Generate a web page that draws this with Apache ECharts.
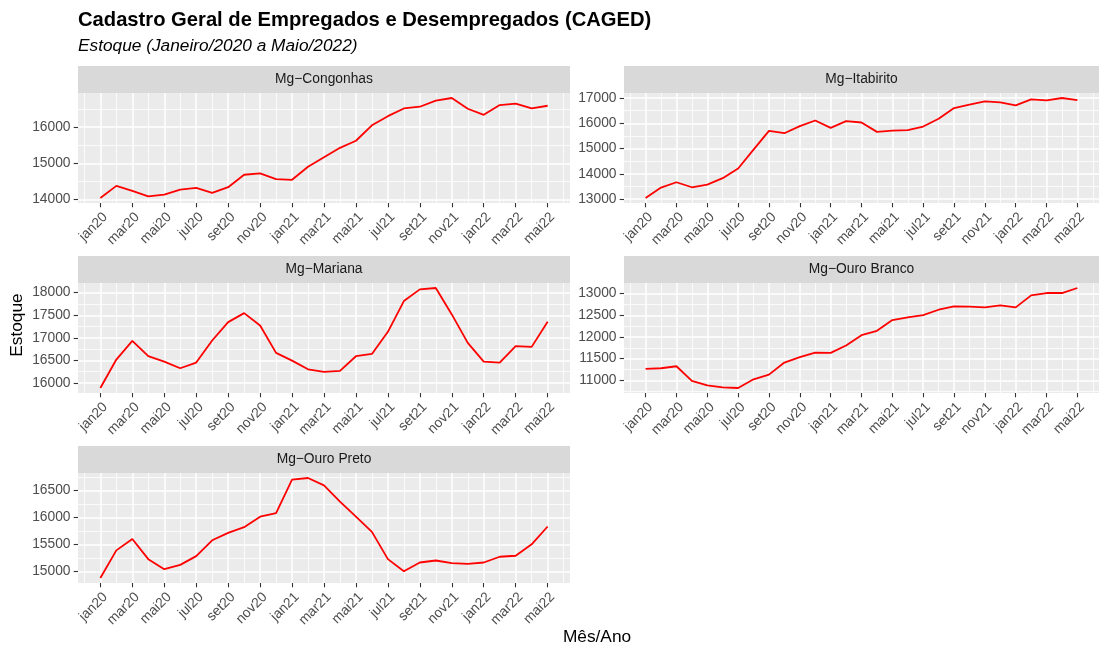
<!DOCTYPE html>
<html>
<head>
<meta charset="utf-8">
<title>CAGED - Estoque</title>
<script src="https://cdn.jsdelivr.net/npm/echarts@6/dist/echarts.min.js"></script>
<style>
  html, body { margin: 0; padding: 0; background: #fff; }
  #chart { width: 1106px; height: 646px; }
</style>
</head>
<body>
<div id="chart"></div>
<script>
// meses jan/2020 .. mai/2022
var months = ['jan20', 'fev20', 'mar20', 'abr20', 'mai20', 'jun20', 'jul20', 'ago20', 'set20', 'out20', 'nov20', 'dez20',
  'jan21', 'fev21', 'mar21', 'abr21', 'mai21', 'jun21', 'jul21', 'ago21', 'set21', 'out21', 'nov21', 'dez21',
  'jan22', 'fev22', 'mar22', 'abr22', 'mai22'];

var panelNames = ['Mg\u2212Congonhas', 'Mg\u2212Itabirito', 'Mg\u2212Mariana', 'Mg\u2212Ouro Branco', 'Mg\u2212Ouro Preto'];

var congonhas = [14046, 14380, 14241, 14093, 14139, 14278, 14324, 14185, 14343, 14685, 14722, 14565,
  14546, 14907, 15167, 15426, 15620, 16046, 16296, 16509, 16556, 16722, 16796, 16500,
  16333, 16602, 16639, 16509, 16583];
var itabirito = [13040, 13452, 13664, 13465, 13571, 13824, 14209, 14953, 15698, 15605, 15884, 16110,
  15817, 16083, 16030, 15658, 15711, 15724, 15870, 16176, 16601, 16734, 16867, 16827,
  16708, 16947, 16907, 17000, 16920];
var mariana = [15889, 16519, 16933, 16593, 16474, 16326, 16452, 16941, 17348, 17548, 17274, 16667,
  16496, 16304, 16244, 16267, 16593, 16644, 17133, 17815, 18074, 18104, 17519, 16889,
  16474, 16452, 16815, 16800, 17356];
var ouroBranco = [11263, 11278, 11324, 10985, 10884, 10838, 10822, 11023, 11131, 11409, 11533, 11641,
  11633, 11803, 12042, 12143, 12390, 12452, 12506, 12629, 12707, 12699, 12683, 12730,
  12683, 12961, 13015, 13015, 13131];
var ouroPreto = [14875, 15388, 15600, 15225, 15038, 15119, 15281, 15575, 15713, 15819, 16013, 16081,
  16700, 16731, 16594, 16294, 16013, 15731, 15225, 15000, 15163, 15200, 15150, 15138,
  15163, 15269, 15288, 15500, 15831];

var ticksCongonhas = [14000, 15000, 16000];
var ticksItabirito = [13000, 14000, 15000, 16000, 17000];
var ticksMariana = [16000, 16500, 17000, 17500, 18000];
var ticksOuroBranco = [11000, 11500, 12000, 12500, 13000];
var ticksOuroPreto = [15000, 15500, 16000, 16500];

var seriesData = [congonhas, itabirito, mariana, ouroBranco, ouroPreto];
var yTicks = [ticksCongonhas, ticksItabirito, ticksMariana, ticksOuroBranco, ticksOuroPreto];

var FONT = 'Liberation Sans';
var colLeft = [78, 624], colWidth = [492, 475];
var rowTop = [93, 283, 473], plotH = 110, stripH = 27;

var chart = echarts.init(document.getElementById('chart'));

var xMajor = [], xMinor = [];
for (var i = -1; i <= months.length; i++) {
  if (i >= 0 && i < months.length && i % 2 === 0) xMajor.push(i); else xMinor.push(i);
}
var xPad = (months.length - 1) * 0.05;

var grids = [], xAxes = [], yAxes = [], series = [], graphics = [];

seriesData.forEach(function (vals, k) {
  var c = k % 2, r = Math.floor(k / 2);
  grids.push({
    left: colLeft[c], top: rowTop[r], width: colWidth[c], height: plotH,
    show: true, backgroundColor: '#EBEBEB', borderWidth: 0
  });

  var lo = Math.min.apply(null, vals), hi = Math.max.apply(null, vals);
  var pad = (hi - lo) * 0.05;
  var yMin = lo - pad, yMax = hi + pad;
  var major = yTicks[k];
  var step = major[1] - major[0];
  var minor = [];
  for (var v = major[0] - step / 2; v <= yMax; v += step) {
    if (v >= yMin) minor.push(v);
  }

  // eixo x principal + eixo x das linhas secundarias
  xAxes.push({
    type: 'value', gridIndex: k, min: -xPad, max: months.length - 1 + xPad,
    axisLine: { show: false, onZero: false },
    axisTick: { show: true, customValues: xMajor, length: 4.3, lineStyle: { color: '#333333', width: 1.1 } },
    axisLabel: {
      customValues: xMajor, rotate: 45, margin: 7, color: '#4D4D4D', fontSize: 13.8, fontFamily: FONT,
      align: 'right', verticalAlign: 'top',
      formatter: function (val) { return months[val]; }
    },
    splitLine: { show: true, lineStyle: { color: '#FFFFFF', width: 1.5 } },
    z: 3
  });
  xAxes.push({
    type: 'value', gridIndex: k, min: -xPad, max: months.length - 1 + xPad, position: 'bottom',
    axisLine: { show: false, onZero: false },
    axisTick: { show: false, customValues: xMinor },
    axisLabel: { show: false },
    splitLine: { show: true, lineStyle: { color: '#FFFFFF', width: 0.8 } },
    z: 2
  });

  yAxes.push({
    type: 'value', gridIndex: k, min: yMin, max: yMax,
    axisLine: { show: false, onZero: false },
    axisTick: { show: true, customValues: major, length: 4.3, lineStyle: { color: '#333333', width: 1.1 } },
    axisLabel: {
      customValues: major, margin: 7.5, color: '#4D4D4D', fontSize: 13.8, fontFamily: FONT,
      formatter: function (val) { return String(val); }
    },
    splitLine: { show: true, lineStyle: { color: '#FFFFFF', width: 1.5 } },
    z: 3
  });
  yAxes.push({
    type: 'value', gridIndex: k, min: yMin, max: yMax, position: 'left',
    axisLine: { show: false, onZero: false },
    axisTick: { show: false, customValues: minor },
    axisLabel: { show: false },
    splitLine: { show: true, lineStyle: { color: '#FFFFFF', width: 0.8 } },
    z: 2
  });

  series.push({
    type: 'line', name: panelNames[k], xAxisIndex: 2 * k, yAxisIndex: 2 * k,
    data: vals.map(function (y, i) { return [i, y]; }),
    showSymbol: false, symbol: 'none', silent: true,
    lineStyle: { color: '#FF0000', width: 1.8 }, z: 5
  });

  graphics.push({
    type: 'rect', left: colLeft[c], top: rowTop[r] - stripH,
    shape: { width: colWidth[c], height: stripH },
    style: { fill: '#D9D9D9' }
  });
  graphics.push({
    type: 'text', x: colLeft[c] + colWidth[c] / 2, y: rowTop[r] - stripH / 2,
    style: {
      text: panelNames[k], fill: '#1A1A1A', font: '13.8px "' + FONT + '"',
      textAlign: 'center', textVerticalAlign: 'middle'
    }
  });
});

graphics.push({
  type: 'text', x: 78, y: 20,
  style: { text: 'Cadastro Geral de Empregados e Desempregados (CAGED)', fill: '#000000',
    font: 'bold 20.2px "' + FONT + '"', textAlign: 'left', textVerticalAlign: 'middle' }
});
graphics.push({
  type: 'text', x: 78, y: 46,
  style: { text: 'Estoque (Janeiro/2020 a Maio/2022)', fill: '#000000',
    font: 'italic 17.3px "' + FONT + '"', textAlign: 'left', textVerticalAlign: 'middle' }
});
graphics.push({
  type: 'text', x: 597, y: 637,
  style: { text: 'Mês/Ano', fill: '#000000', font: '17.3px "' + FONT + '"',
    textAlign: 'center', textVerticalAlign: 'middle' }
});
graphics.push({
  type: 'text', x: 17, y: 325, rotation: Math.PI / 2,
  style: { text: 'Estoque', fill: '#000000', font: '17.3px "' + FONT + '"',
    textAlign: 'center', textVerticalAlign: 'middle' }
});

chart.setOption({
  animation: false,
  backgroundColor: '#FFFFFF',
  grid: grids,
  xAxis: xAxes,
  yAxis: yAxes,
  series: series,
  graphic: graphics
});
</script>
</body>
</html>
